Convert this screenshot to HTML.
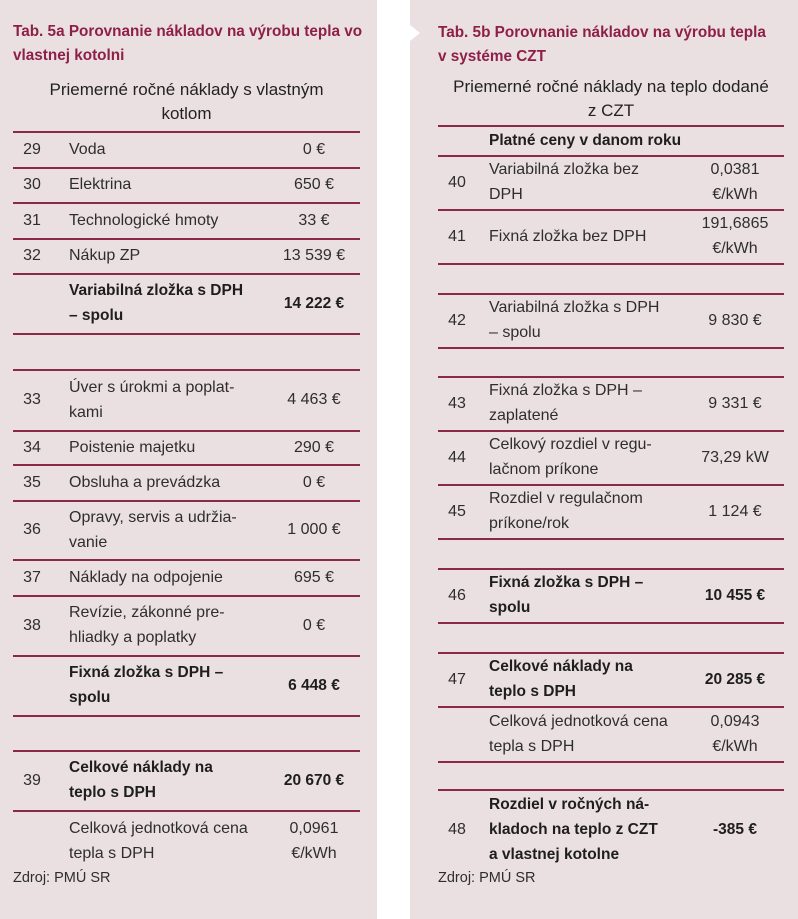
<!DOCTYPE html>
<html><head><meta charset="utf-8">
<style>
*{margin:0;padding:0;box-sizing:border-box}
body{width:798px;height:919px;background:#fff;position:relative;overflow:hidden;font-family:"Liberation Sans",sans-serif;color:#2e2e2e;font-size:16px}
.p{position:absolute;top:0;height:919px;background:#ebe0e1}
.ln{position:absolute;height:2px;background:#8a2a46}
.ttl{position:absolute;color:#8e1f48;font-weight:bold;font-size:15.3px;line-height:24px}
.hd{position:absolute;text-align:center;font-size:17px;line-height:24px;color:#222}
.r{position:absolute;display:flex;align-items:center}
.r>div{line-height:25px}
.n{position:absolute;text-align:center}
.l{position:absolute;white-space:nowrap}
.v{position:absolute;text-align:center}
.b{font-weight:bold;color:#1e1e1e;font-size:15.5px}
.src{position:absolute;font-size:14.5px}
</style></head><body>
<div class="p" style="left:0;width:377px"></div>
<div class="p" style="left:410px;width:388px"></div>
<div style="position:absolute;left:410px;top:25px;width:0;height:0;border-top:8.5px solid transparent;border-bottom:8.5px solid transparent;border-left:10px solid #fff"></div>

<div class="ttl" style="left:13px;top:20px;width:364px">Tab. 5a Porovnanie nákladov na výrobu tepla vo<br>vlastnej kotolni</div>
<div class="hd" style="left:13px;top:78px;width:347px">Priemerné ročné náklady s vlastným<br>kotlom</div>

<div class="ttl" style="left:438px;top:21px;width:360px">Tab. 5b Porovnanie nákladov na výrobu tepla<br>v systéme CZT</div>
<div class="hd" style="left:438px;top:75px;width:346px">Priemerné ročné náklady na teplo dodané<br>z CZT</div>

<div class="ln" style="left:13px;width:347px;top:131px"></div>
<div class="ln" style="left:13px;width:347px;top:167px"></div>
<div class="ln" style="left:13px;width:347px;top:202px"></div>
<div class="ln" style="left:13px;width:347px;top:238px"></div>
<div class="ln" style="left:13px;width:347px;top:273px"></div>
<div class="ln" style="left:13px;width:347px;top:333px"></div>
<div class="ln" style="left:13px;width:347px;top:369px"></div>
<div class="ln" style="left:13px;width:347px;top:430px"></div>
<div class="ln" style="left:13px;width:347px;top:464px"></div>
<div class="ln" style="left:13px;width:347px;top:500px"></div>
<div class="ln" style="left:13px;width:347px;top:559px"></div>
<div class="ln" style="left:13px;width:347px;top:595px"></div>
<div class="ln" style="left:13px;width:347px;top:655px"></div>
<div class="ln" style="left:13px;width:347px;top:715px"></div>
<div class="ln" style="left:13px;width:347px;top:750px"></div>
<div class="ln" style="left:13px;width:347px;top:810px"></div>

<div class="r" style="left:0;width:377px;top:131px;height:36px"><div class="n" style="left:13px;width:38px">29</div><div class="l" style="left:69px">Voda</div><div class="v" style="left:264px;width:100px">0 €</div></div>
<div class="r" style="left:0;width:377px;top:167px;height:35px"><div class="n" style="left:13px;width:38px">30</div><div class="l" style="left:69px">Elektrina</div><div class="v" style="left:264px;width:100px">650 €</div></div>
<div class="r" style="left:0;width:377px;top:202px;height:36px"><div class="n" style="left:13px;width:38px">31</div><div class="l" style="left:69px">Technologické hmoty</div><div class="v" style="left:264px;width:100px">33 €</div></div>
<div class="r" style="left:0;width:377px;top:238px;height:35px"><div class="n" style="left:13px;width:38px">32</div><div class="l" style="left:69px">Nákup ZP</div><div class="v" style="left:264px;width:100px">13 539 €</div></div>
<div class="r" style="left:0;width:377px;top:273px;height:60px"><div class="l b" style="left:69px">Variabilná zložka s DPH<br>– spolu</div><div class="v b" style="left:264px;width:100px">14 222 €</div></div>
<div class="r" style="left:0;width:377px;top:369px;height:61px"><div class="n" style="left:13px;width:38px">33</div><div class="l" style="left:69px">Úver s úrokmi a poplat-<br>kami</div><div class="v" style="left:264px;width:100px">4 463 €</div></div>
<div class="r" style="left:0;width:377px;top:430px;height:34px"><div class="n" style="left:13px;width:38px">34</div><div class="l" style="left:69px">Poistenie majetku</div><div class="v" style="left:264px;width:100px">290 €</div></div>
<div class="r" style="left:0;width:377px;top:464px;height:36px"><div class="n" style="left:13px;width:38px">35</div><div class="l" style="left:69px">Obsluha a prevádzka</div><div class="v" style="left:264px;width:100px">0 €</div></div>
<div class="r" style="left:0;width:377px;top:500px;height:59px"><div class="n" style="left:13px;width:38px">36</div><div class="l" style="left:69px">Opravy, servis a udržia-<br>vanie</div><div class="v" style="left:264px;width:100px">1 000 €</div></div>
<div class="r" style="left:0;width:377px;top:559px;height:36px"><div class="n" style="left:13px;width:38px">37</div><div class="l" style="left:69px">Náklady na odpojenie</div><div class="v" style="left:264px;width:100px">695 €</div></div>
<div class="r" style="left:0;width:377px;top:595px;height:60px"><div class="n" style="left:13px;width:38px">38</div><div class="l" style="left:69px">Revízie, zákonné pre-<br>hliadky a poplatky</div><div class="v" style="left:264px;width:100px">0 €</div></div>
<div class="r" style="left:0;width:377px;top:655px;height:60px"><div class="l b" style="left:69px">Fixná zložka s DPH –<br>spolu</div><div class="v b" style="left:264px;width:100px">6 448 €</div></div>
<div class="r" style="left:0;width:377px;top:750px;height:60px"><div class="n" style="left:13px;width:38px">39</div><div class="l b" style="left:69px">Celkové náklady na<br>teplo s DPH</div><div class="v b" style="left:264px;width:100px">20 670 €</div></div>
<div class="r" style="left:0;width:377px;top:813px;height:56px"><div class="l" style="left:69px">Celková jednotková cena<br>tepla s DPH</div><div class="v" style="left:264px;width:100px">0,0961<br>€/kWh</div></div>
<div class="src" style="left:13px;top:870px">Zdroj: PMÚ SR</div>

<div class="ln" style="left:438px;width:346px;top:125px"></div>
<div class="ln" style="left:438px;width:346px;top:155px"></div>
<div class="ln" style="left:438px;width:346px;top:209px"></div>
<div class="ln" style="left:438px;width:346px;top:263px"></div>
<div class="ln" style="left:438px;width:346px;top:293px"></div>
<div class="ln" style="left:438px;width:346px;top:347px"></div>
<div class="ln" style="left:438px;width:346px;top:376px"></div>
<div class="ln" style="left:438px;width:346px;top:430px"></div>
<div class="ln" style="left:438px;width:346px;top:484px"></div>
<div class="ln" style="left:438px;width:346px;top:538px"></div>
<div class="ln" style="left:438px;width:346px;top:568px"></div>
<div class="ln" style="left:438px;width:346px;top:622px"></div>
<div class="ln" style="left:438px;width:346px;top:652px"></div>
<div class="ln" style="left:438px;width:346px;top:706px"></div>
<div class="ln" style="left:438px;width:346px;top:761px"></div>
<div class="ln" style="left:438px;width:346px;top:789px"></div>

<div class="r" style="left:0;width:798px;top:125px;height:30px"><div class="l b" style="left:489px">Platné ceny v danom roku</div></div>
<div class="r" style="left:0;width:798px;top:155px;height:54px"><div class="n" style="left:438px;width:38px">40</div><div class="l" style="left:489px">Variabilná zložka bez<br>DPH</div><div class="v" style="left:680px;width:110px">0,0381<br>€/kWh</div></div>
<div class="r" style="left:0;width:798px;top:209px;height:54px"><div class="n" style="left:438px;width:38px">41</div><div class="l" style="left:489px">Fixná zložka bez DPH</div><div class="v" style="left:680px;width:110px">191,6865<br>€/kWh</div></div>
<div class="r" style="left:0;width:798px;top:293px;height:54px"><div class="n" style="left:438px;width:38px">42</div><div class="l" style="left:489px">Variabilná zložka s DPH<br>– spolu</div><div class="v" style="left:680px;width:110px">9 830 €</div></div>
<div class="r" style="left:0;width:798px;top:376px;height:54px"><div class="n" style="left:438px;width:38px">43</div><div class="l" style="left:489px">Fixná zložka s DPH –<br>zaplatené</div><div class="v" style="left:680px;width:110px">9 331 €</div></div>
<div class="r" style="left:0;width:798px;top:430px;height:54px"><div class="n" style="left:438px;width:38px">44</div><div class="l" style="left:489px">Celkový rozdiel v regu-<br>lačnom príkone</div><div class="v" style="left:680px;width:110px">73,29 kW</div></div>
<div class="r" style="left:0;width:798px;top:484px;height:54px"><div class="n" style="left:438px;width:38px">45</div><div class="l" style="left:489px">Rozdiel v regulačnom<br>príkone/rok</div><div class="v" style="left:680px;width:110px">1 124 €</div></div>
<div class="r" style="left:0;width:798px;top:568px;height:54px"><div class="n" style="left:438px;width:38px">46</div><div class="l b" style="left:489px">Fixná zložka s DPH –<br>spolu</div><div class="v b" style="left:680px;width:110px">10 455 €</div></div>
<div class="r" style="left:0;width:798px;top:652px;height:54px"><div class="n" style="left:438px;width:38px">47</div><div class="l b" style="left:489px">Celkové náklady na<br>teplo s DPH</div><div class="v b" style="left:680px;width:110px">20 285 €</div></div>
<div class="r" style="left:0;width:798px;top:706px;height:55px"><div class="l" style="left:489px">Celková jednotková cena<br>tepla s DPH</div><div class="v" style="left:680px;width:110px">0,0943<br>€/kWh</div></div>
<div class="r" style="left:0;width:798px;top:792px;height:75px"><div class="n" style="left:438px;width:38px">48</div><div class="l b" style="left:489px">Rozdiel v ročných ná-<br>kladoch na teplo z CZT<br>a vlastnej kotolne</div><div class="v b" style="left:680px;width:110px">-385 €</div></div>
<div class="src" style="left:438px;top:870px">Zdroj: PMÚ SR</div>
</body></html>
